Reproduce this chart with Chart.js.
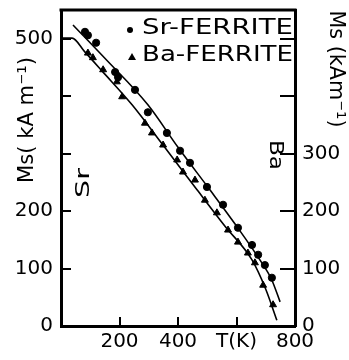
<!DOCTYPE html>
<html><head><meta charset="utf-8">
<script src="https://cdn.jsdelivr.net/npm/chart.js"></script>
<style>html,body{margin:0;padding:0;background:#fff;}#wrap{width:349px;height:360px;position:relative;}</style>
</head><body><div id="wrap"><canvas id="c" width="349" height="360"></canvas></div>
<script>
// Measured points
const srT  = [82, 92, 120, 185, 195, 253, 297, 362, 407, 441, 499, 554, 605, 653, 674, 697, 721];
const srMs = [512, 506, 493, 442, 433, 411, 372, 336, 305, 284, 242, 211, 171, 141, 124, 106, 84];
const baT  = [92, 109, 144, 191, 209, 287, 311, 349, 397, 417, 458, 492, 533, 571, 605, 639, 663, 691, 725];
const baMs = [475, 467, 446, 425, 399, 353, 336, 315, 289, 268, 254, 219, 197, 167, 146, 127, 110, 71, 37];
// Drawn curves
const srFitT  = [41, 150, 297, 400, 509, 600, 680, 720, 749];
const srFitMs = [524, 466, 385, 311, 237, 174, 115, 81, 42];
const baFitT  = [5, 38, 80, 140, 243, 350, 465, 560, 653, 700, 738];
const baFitMs = [501, 501, 478, 444, 385, 314, 237, 174, 115, 64, 10];
// Ticks
const xTickValues = [200, 400, 600, 800];
const xTickLabels = ['200', '400', 'T(K)', '800'];
const leftTickValues = [0, 100, 200, 300, 400, 500];
const leftTickLabels = ['0', '100', '200', '', '', '500'];
const rightTickValues = [0, 100, 200, 300, 400, 500];
const rightTickLabels = ['0', '100', '200', '300', '', ''];
const seriesLabels = ['Sr-FERRITE', 'Ba-FERRITE'];

const pts = (xs, ys) => xs.map((x, i) => ({x: x, y: ys[i]}));
const FONT = 'DejaVu Sans';

function fitText(ctx, text, cx, cy, rot, len) {
  const w = ctx.measureText(text).width;
  ctx.save(); ctx.translate(cx, cy); ctx.rotate(rot); ctx.scale(len / w, 1);
  ctx.fillText(text, 0, 0); ctx.restore();
}

const framePlugin = {
  id: 'frame',
  afterDraw(chart) {
    const ctx = chart.ctx, a = chart.chartArea;
    ctx.save();
    ctx.strokeStyle = '#000';
    ctx.lineWidth = 3;
    ctx.beginPath();
    ctx.moveTo(a.left - 1.5, a.top);
    ctx.lineTo(a.right + 1.5, a.top);
    ctx.stroke();
    ctx.fillStyle = '#000';
    ctx.textBaseline = 'middle';
    ctx.textAlign = 'center';
    // axis titles
    ctx.font = '22px "' + FONT + '"';
    fitText(ctx, 'Ms( kA m\u207B\u00B9)', 27, 120, -Math.PI / 2, 126);
    fitText(ctx, 'Ms (kAm\u207B\u00B9)', 336, 69, Math.PI / 2, 117);
    // Sr / Ba axis tags
    ctx.font = '20px "' + FONT + '"';
    fitText(ctx, 'Sr', 84, 183, -Math.PI / 2, 30);
    fitText(ctx, 'Ba', 275, 155, Math.PI / 2, 30);
    // legend
    ctx.font = '21px "' + FONT + '"';
    ctx.textAlign = 'left';
    const items = [
      {label: chart.data.datasets[0].label, y: 29, style: 'circle'},
      {label: chart.data.datasets[1].label, y: 56, style: 'triangle'}
    ];
    items.forEach(it => {
      if (it.style === 'circle') {
        ctx.beginPath(); ctx.arc(130, it.y + 1, 3, 0, Math.PI * 2); ctx.fill();
      } else {
        ctx.beginPath();
        ctx.moveTo(132, it.y - 3); ctx.lineTo(136, it.y + 4); ctx.lineTo(128, it.y + 4);
        ctx.closePath(); ctx.fill();
      }
      fitText(ctx, it.label, 142, it.y, 0, 151);
    });
    ctx.restore();
  }
};

const tickFont = {family: FONT, size: 20};
const labelFor = (vals, labs) => (v) => { const i = vals.indexOf(v); return i < 0 ? '' : labs[i]; };
const noPad = s => { s.paddingTop = 0; s.paddingBottom = 0; s.paddingLeft = 0; s.paddingRight = 0; };

new Chart(document.getElementById('c'), {
  type: 'scatter',
  data: {
    datasets: [
      {label: seriesLabels[0], data: pts(srT, srMs), pointStyle: 'circle', pointRadius: 3.6,
       backgroundColor: '#000', borderColor: '#000', borderWidth: 1, showLine: false},
      {label: seriesLabels[1], data: pts(baT, baMs), pointStyle: 'triangle', pointRadius: 4,
       backgroundColor: '#000', borderColor: '#000', borderWidth: 1, showLine: false},
      {label: 'Sr fit', data: pts(srFitT, srFitMs), showLine: true, pointRadius: 0,
       borderColor: '#000', borderWidth: 1.6, cubicInterpolationMode: 'monotone'},
      {label: 'Ba fit', data: pts(baFitT, baFitMs), showLine: true, pointRadius: 0,
       borderColor: '#000', borderWidth: 1.6, cubicInterpolationMode: 'monotone'}
    ]
  },
  options: {
    responsive: false,
    animation: false,
    devicePixelRatio: 1,
    layout: {padding: {top: 10, left: 0, right: 0, bottom: 0}},
    plugins: {legend: {display: false}, tooltip: {enabled: false}},
    scales: {
      x: {
        type: 'linear', position: 'bottom', min: 0, max: 800,
        afterBuildTicks: s => { s.ticks = xTickValues.map(v => ({value: v})); },
        afterFit: s => { s.height = 34; noPad(s); },
        grid: {drawOnChartArea: false, drawTicks: true, tickLength: -9, color: '#000', lineWidth: 2},
        border: {display: true, color: '#000', width: 3},
        ticks: {color: '#000', font: tickFont, padding: 13, maxRotation: 0, autoSkip: false,
                callback: labelFor(xTickValues, xTickLabels)}
      },
      y: {
        type: 'linear', position: 'left', min: 0, max: 550,
        afterBuildTicks: s => { s.ticks = leftTickValues.map(v => ({value: v})); },
        afterFit: s => { s.width = 61; noPad(s); },
        grid: {drawOnChartArea: false, drawTicks: true, tickLength: -10, color: '#000', lineWidth: 2},
        border: {display: true, color: '#000', width: 3},
        ticks: {color: '#000', font: tickFont, padding: 18, autoSkip: false,
                callback: labelFor(leftTickValues, leftTickLabels)}
      },
      y2: {
        type: 'linear', position: 'right', min: 0, max: 550,
        afterBuildTicks: s => { s.ticks = rightTickValues.map(v => ({value: v})); },
        afterFit: s => { s.width = 54; noPad(s); },
        grid: {drawOnChartArea: false, drawTicks: true, tickLength: -15, color: '#000', lineWidth: 2},
        border: {display: true, color: '#000', width: 3},
        ticks: {color: '#000', font: tickFont, padding: 22, autoSkip: false,
                callback: labelFor(rightTickValues, rightTickLabels)}
      }
    }
  },
  plugins: [framePlugin]
});
</script>
</body></html>
